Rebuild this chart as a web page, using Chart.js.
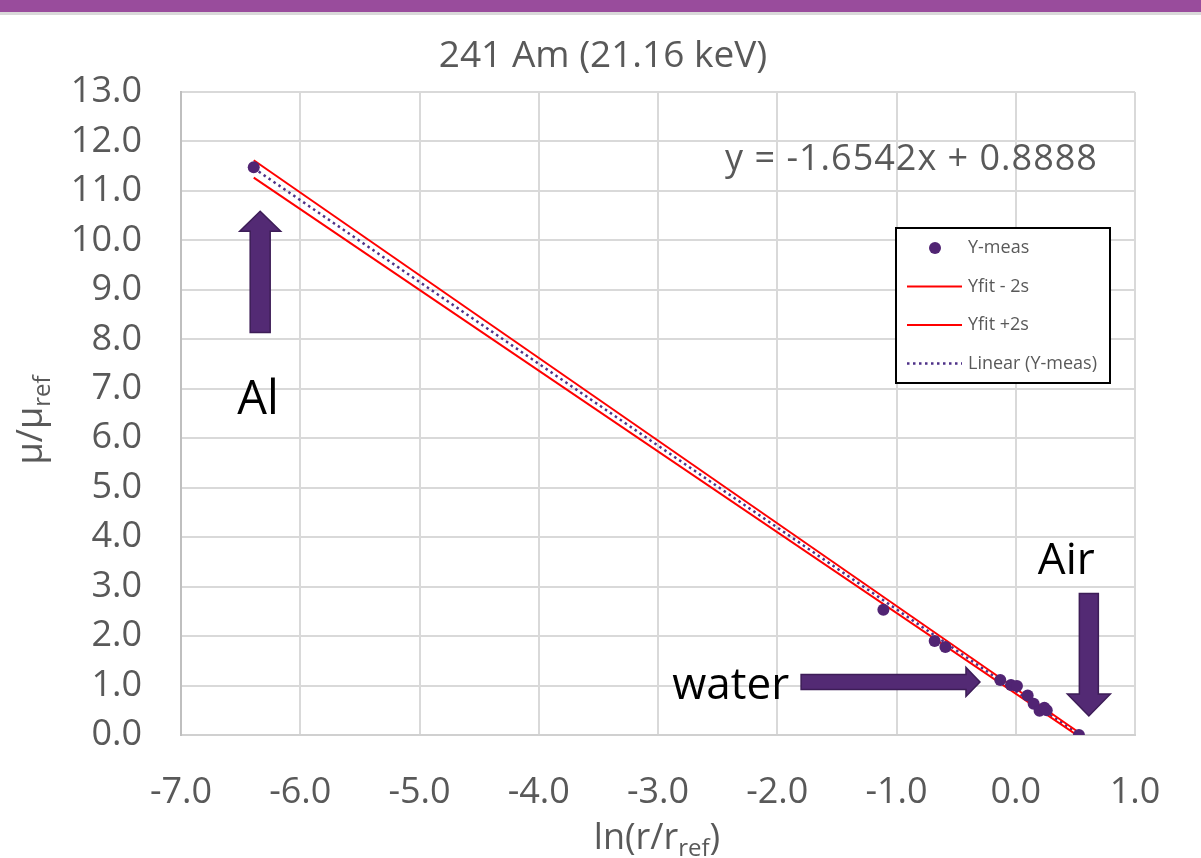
<!DOCTYPE html>
<html>
<head>
<meta charset="utf-8">
<script src="https://cdn.jsdelivr.net/npm/chart.js@4.4.1/dist/chart.umd.min.js"></script>
<style>
html, body { margin: 0; padding: 0; background: #fff; }
#wrap { position: relative; width: 1201px; height: 858px; overflow: hidden; }
#topbar { position: absolute; left: 0; top: 0; width: 1201px; height: 12px; background: #994c9c; }
#topline { position: absolute; left: 0; top: 12px; width: 1201px; height: 3px; background: #d9d9d9; }
canvas { position: absolute; left: 0; top: 0; }
</style>
</head>
<body>
<div id="wrap">
  <canvas id="chart" width="1201" height="858"></canvas>
  <div id="topbar"></div>
  <div id="topline"></div>
</div>
<script>
var xMeas = [-6.39, -1.11, -0.68, -0.59, -0.13, -0.04, 0.01, 0.10, 0.15, 0.20, 0.24, 0.26, 0.53];
var yMeas = [11.48, 2.53, 1.90, 1.78, 1.11, 1.01, 0.99, 0.80, 0.63, 0.49, 0.55, 0.50, 0.00];

// band and trend line end points
var fitX = [-6.39, 0.53];
var fitLow = [11.27, -0.03];
var fitHigh = [11.62, 0.05];
var trendY = [11.46, 0.01];

var seriesNames = ['Y-meas', 'Yfit - 2s', 'Yfit +2s', 'Linear (Y-meas)'];
var titleText = '241 Am (21.16 keV)';
var equationText = 'y = -1.6542x + 0.8888';

var xMin = -7, xMax = 1, yMin = 0, yMax = 13;

var grey = '#595959';
var purple = '#512473';
var font = "'Open Sans', 'Noto Sans', sans-serif";

function pairs(xs, ys){
    var out = [];
    for (var i = 0; i < xs.length; i++) {
        out.push({x: xs[i], y: ys[i]});
    }
    return out;
}

// arrows and notes, in data units
var arrows = [
    {from: [-6.336, 8.14], to: [-6.336, 10.59], shaft: 20, head: 41, headLen: 20},
    {from: [-1.80, 1.073], to: [-0.30, 1.073], shaft: 15, head: 29, headLen: 14},
    {from: [0.613, 2.86], to: [0.613, 0.385], shaft: 19, head: 43, headLen: 22}
];
var notes = [
    {text: 'Al', x: -6.353, y: 6.50, align: 'center', size: 47},
    {text: 'water', x: -1.90, y: 0.73, align: 'right', size: 44},
    {text: 'Air', x: 0.424, y: 3.25, align: 'center', size: 44}
];

function drawArrow(ctx, x0, y0, x1, y1, a){
    var dx = x1 - x0, dy = y1 - y0;
    var len = Math.sqrt(dx*dx + dy*dy);
    var ux = dx/len, uy = dy/len;
    var nx = -uy, ny = ux;
    var bx = x1 - ux*a.headLen, by = y1 - uy*a.headLen;
    var s = a.shaft/2, h = a.head/2;
    ctx.beginPath();
    ctx.moveTo(x0 + nx*s, y0 + ny*s);
    ctx.lineTo(bx + nx*s, by + ny*s);
    ctx.lineTo(bx + nx*h, by + ny*h);
    ctx.lineTo(x1, y1);
    ctx.lineTo(bx - nx*h, by - ny*h);
    ctx.lineTo(bx - nx*s, by - ny*s);
    ctx.lineTo(x0 - nx*s, y0 - ny*s);
    ctx.closePath();
    ctx.fillStyle = '#532a74';
    ctx.fill();
    ctx.strokeStyle = '#3d1d57';
    ctx.lineWidth = 1.5;
    ctx.stroke();
}

// text with a subscript part, e.g. ln(r/r_ref)
function drawSubText(ctx, parts, cx, baseline, rotate){
    ctx.save();
    ctx.translate(rotate ? baseline : cx, rotate ? cx : baseline);
    if (rotate) ctx.rotate(-Math.PI/2);
    var total = 0;
    parts.forEach(function(p){
        ctx.font = p.size + 'px ' + font;
        p.w = ctx.measureText(p.text).width;
        total += p.w;
    });
    var x = -total/2;
    ctx.fillStyle = grey;
    ctx.textBaseline = 'alphabetic';
    ctx.textAlign = 'left';
    parts.forEach(function(p){
        ctx.font = p.size + 'px ' + font;
        ctx.fillText(p.text, x, p.dy);
        x += p.w;
    });
    ctx.restore();
}

var extras = {
    id: 'extras',
    afterDatasetsDraw: function(chart){
        var ctx = chart.ctx;
        var sx = chart.scales.x, sy = chart.scales.y;
        ctx.save();
        arrows.forEach(function(a){
            drawArrow(ctx, sx.getPixelForValue(a.from[0]), sy.getPixelForValue(a.from[1]),
                      sx.getPixelForValue(a.to[0]), sy.getPixelForValue(a.to[1]), a);
        });
        ctx.fillStyle = '#000';
        ctx.textBaseline = 'alphabetic';
        notes.forEach(function(n){
            ctx.font = n.size + 'px ' + font;
            ctx.textAlign = n.align;
            ctx.fillText(n.text, sx.getPixelForValue(n.x), sy.getPixelForValue(n.y));
        });

        // equation
        ctx.fillStyle = grey;
        ctx.font = '36px ' + font;
        ctx.textAlign = 'right';
        ctx.letterSpacing = '1px';
        ctx.fillText(equationText, sx.getPixelForValue(0.689), sy.getPixelForValue(11.42));
        ctx.letterSpacing = '0px';

        // title
        ctx.textAlign = 'center';
        ctx.font = '37px ' + font;
        ctx.fillText(titleText, 603, 67);

        // axis titles
        drawSubText(ctx, [
            {text: 'ln(r/r', size: 36, dy: 0},
            {text: 'ref', size: 24, dy: 7},
            {text: ')', size: 36, dy: 0}
        ], 657, 849, false);
        drawSubText(ctx, [
            {text: '\u03bc/\u03bc', size: 36, dy: 0},
            {text: 'ref', size: 24, dy: 8}
        ], 420, 42, true);

        // legend box
        var lx = 896, ly = 228, lw = 214, lh = 155;
        ctx.fillStyle = '#fff';
        ctx.fillRect(lx, ly, lw, lh);
        ctx.strokeStyle = '#000';
        ctx.lineWidth = 2;
        ctx.strokeRect(lx, ly, lw, lh);
        ctx.font = '18px ' + font;
        ctx.textAlign = 'left';
        ctx.textBaseline = 'middle';
        chart.data.datasets.forEach(function(ds, i){
            var ry = ly + 20 + i*38.5;
            if (ds.showLine === false) {
                ctx.beginPath();
                ctx.arc(lx + 39, ry, 6, 0, Math.PI*2);
                ctx.fillStyle = ds.backgroundColor;
                ctx.fill();
            } else {
                ctx.beginPath();
                ctx.setLineDash(ds.borderDash || []);
                ctx.moveTo(lx + 11, ry);
                ctx.lineTo(lx + 66, ry);
                ctx.strokeStyle = ds.borderColor;
                ctx.lineWidth = ds.borderWidth;
                ctx.stroke();
                ctx.setLineDash([]);
            }
            ctx.fillStyle = grey;
            ctx.fillText(ds.label, lx + 72, ry);
        });
        ctx.restore();
    }
};

var chart = new Chart(document.getElementById('chart'), {
    type: 'scatter',
    data: {
        datasets: [
            {label: seriesNames[0], data: pairs(xMeas, yMeas), showLine: false,
             backgroundColor: purple, borderColor: purple, pointRadius: 6, pointBorderWidth: 0},
            {label: seriesNames[1], data: pairs(fitX, fitLow), showLine: true,
             borderColor: '#ff0000', borderWidth: 2, pointRadius: 0},
            {label: seriesNames[2], data: pairs(fitX, fitHigh), showLine: true,
             borderColor: '#ff0000', borderWidth: 2, pointRadius: 0},
            {label: seriesNames[3], data: pairs(fitX, trendY), showLine: true,
             borderColor: '#4e3188', borderWidth: 2.5, borderDash: [2.5, 3.5], pointRadius: 0}
        ]
    },
    options: {
        responsive: false,
        animation: false,
        layout: {padding: {top: 92, right: 66, left: 0, bottom: 0}},
        plugins: {legend: {display: false}, tooltip: {enabled: false}, title: {display: false}},
        scales: {
            x: {
                type: 'linear', min: xMin, max: xMax,
                afterFit: function(s){ s.height = 123; },
                grid: {color: '#d9d9d9', lineWidth: 2, drawTicks: false},
                border: {color: '#d0d0d0', width: 2},
                ticks: {stepSize: 1, padding: 36, color: grey, font: {family: font, size: 36},
                        maxRotation: 0, callback: function(v){ return v.toFixed(1); }}
            },
            y: {
                type: 'linear', min: yMin, max: yMax,
                afterFit: function(s){ s.width = 181; },
                grid: {color: '#d9d9d9', lineWidth: 2, drawTicks: false},
                border: {color: '#bfbfbf', width: 2},
                ticks: {stepSize: 1, padding: 39, color: grey, font: {family: font, size: 36},
                        callback: function(v){ return v.toFixed(1); }}
            }
        }
    },
    plugins: [extras]
});
</script>
</body>
</html>
